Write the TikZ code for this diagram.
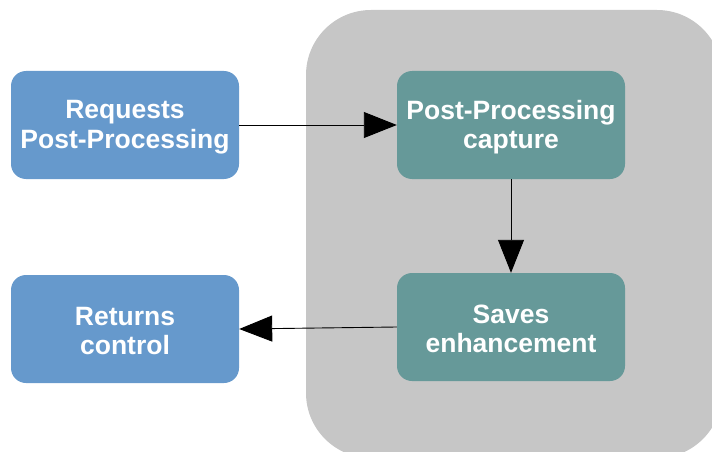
\documentclass[tikz,border=0pt]{standalone}
\usepackage{fontspec}
\setmainfont{Liberation Sans}
\usetikzlibrary{arrows.meta}
\definecolor{boxblue}{HTML}{6699CC}
\definecolor{boxteal}{HTML}{669999}
\definecolor{panelgray}{HTML}{C6C6C6}
\tikzset{
  card/.style={rounded corners=15pt, minimum width=228pt, minimum height=108pt,
    inner sep=0pt},
  cardtext/.style={text=white, align=center, inner sep=0pt, yshift=-2pt,
    font=\fontsize{26.5}{29.5}\selectfont\bfseries},
  bluecard/.style={card, fill=boxblue},
  tealcard/.style={card, fill=boxteal},
  conn/.style={black, line width=0.9pt, -{Triangle[length=33pt,width=26pt]}}
}
\begin{document}
\begin{tikzpicture}[x=1pt,y=-1pt]
\useasboundingbox (0,0) rectangle (712,452);
\begin{scope}
\clip (0,0) rectangle (712,452);
\fill[panelgray, rounded corners=65pt] (306,10) rectangle (722,458);
\end{scope}
\node[bluecard, label={[cardtext]center:{Requests\\Post-Processing}}] (req) at (125,125) {};
\node[tealcard, label={[cardtext]center:{Post-Processing\\capture}}] (cap) at (511,125) {};
\node[tealcard, label={[cardtext]center:{Saves\\enhancement}}] (sav) at (511,327) {};
\node[bluecard, label={[cardtext]center:{Returns\\control}}] (ret) at (125,329) {};
\draw[conn] (req.east) -- (cap.west);
\draw[conn] (cap.south) -- (sav.north);
\draw[conn] (sav.west) -- (ret.east);
\end{tikzpicture}
\end{document}
